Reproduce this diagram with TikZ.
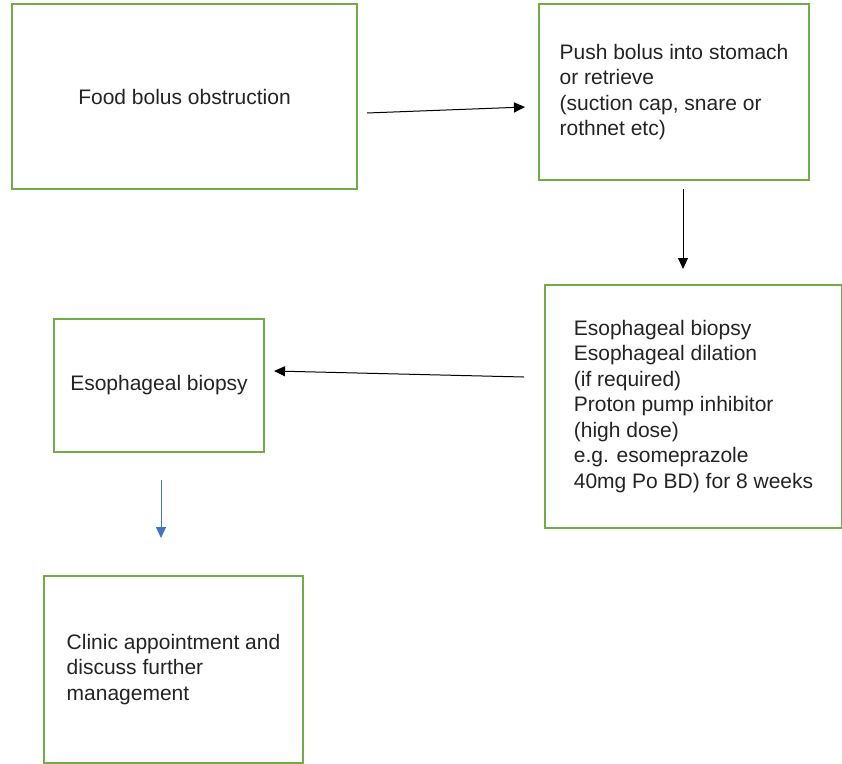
\documentclass[tikz,border=0pt]{standalone}
\usepackage{fontspec}
\setmainfont{Liberation Sans}
\usetikzlibrary{arrows.meta}
\definecolor{boxgreen}{RGB}{112,173,71}
\definecolor{arrblue}{RGB}{68,114,196}
\definecolor{txtgray}{RGB}{35,35,35}
\begin{document}
\begin{tikzpicture}[x=1pt, y=-1pt,
    font=\fontsize{21}{25.5}\selectfont,
    box/.style={draw=boxgreen, line width=2pt, inner sep=0pt, align=left, text=txtgray},
    arr/.style={-{Triangle[length=11pt,width=10pt]}, line width=1pt, black}]
  \useasboundingbox (0,0) rectangle (842,763);
  \node[box, minimum width=345pt, minimum height=185pt] (food) at (184.5,96.5) {Food bolus obstruction};
  \node[box, minimum width=270pt, minimum height=176pt] (push) at (674,92) {Push bolus into stomach\\or retrieve\\(suction cap, snare or\\rothnet etc)};
  \node[box, minimum width=297pt, minimum height=243pt] (plan) at (693.5,406.5) {Esophageal biopsy\\Esophageal dilation\\(if required)\\Proton pump inhibitor\\(high dose)\\e.g. esomeprazole\\40mg Po BD) for 8 weeks};
  \node[box, minimum width=210pt, minimum height=133pt] (biopsy) at (159,385.5) {Esophageal biopsy};
  \node[box, minimum width=259pt, minimum height=187pt] (clinic) at (173.5,669.5) {Clinic appointment and\\discuss further\\management};
  \draw[arr] ([shift={(9,16.5)}]food.east) -- ([shift={(-13,15)}]push.west);
  \draw[arr] ([shift={(9,8)}]push.south) -- ([shift={(-10.5,-15)}]plan.north);
  \draw[arr] ([shift={(-20,-29.5)}]plan.west) -- ([shift={(9,-14.5)}]biopsy.east);
  \draw[arr, arrblue] ([shift={(2,27)}]biopsy.south) -- ([shift={(-12.5,-37)}]clinic.north);
\end{tikzpicture}
\end{document}
